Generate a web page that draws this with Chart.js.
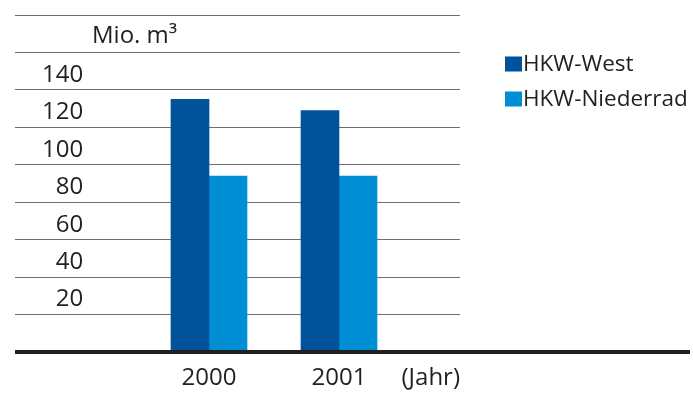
<!DOCTYPE html>
<html>
<head>
<meta charset="utf-8">
<script src="https://cdn.jsdelivr.net/npm/chart.js@4"></script>
<style>
  html, body { margin: 0; padding: 0; background: #ffffff; }
  #wrap { width: 693px; height: 393px; position: relative; }
</style>
</head>
<body>
<div id="wrap"><canvas id="c"></canvas></div>
<script>
// ---- data ----
const years = [2000, 2001];
const hkwWest = [135, 129];
const hkwNiederrad = [94, 94];
const seriesNames = ['HKW-West', 'HKW-Niederrad'];
const seriesColors = ['#00529b', '#008fd5'];
const yTickValues = [20, 40, 60, 80, 100, 120, 140];
const unitLabel = 'Mio. m\u00b3';
const axisLabel = '(Jahr)';

const FONT = '"Open Sans", "Liberation Sans", Arial, sans-serif';
const TEXT = '#231f20';

const overlay = {
  id: 'overlay',
  afterDatasetsDraw(chart) {
    const { ctx, chartArea, scales: { x, y } } = chart;
    ctx.save();
    // thick base line
    const y0 = y.getPixelForValue(0);
    ctx.fillStyle = TEXT;
    ctx.fillRect(chartArea.left, y0 - 2, 690 - chartArea.left, 4);
    // unit label
    ctx.font = '24px ' + FONT;
    ctx.fillStyle = TEXT;
    ctx.textBaseline = 'middle';
    ctx.textAlign = 'left';
    ctx.fillText(unitLabel, 92, (y.getPixelForValue(160) + y.getPixelForValue(180)) / 2 + 2);
    // axis label
    ctx.textAlign = 'right';
    ctx.fillText(axisLabel, chartArea.right, 378);
    // legend
    ctx.font = '22.5px ' + FONT;
    ctx.textAlign = 'left';
    chart.data.datasets.forEach((ds, i) => {
      const cy = 64 + i * 35;
      ctx.fillStyle = ds.backgroundColor;
      ctx.fillRect(505, cy - 7.5, 17, 15);
      ctx.fillStyle = TEXT;
      ctx.fillText(ds.label, 523, cy + 1);
    });
    ctx.restore();
  }
};

new Chart(document.getElementById('c'), {
  type: 'bar',
  data: {
    labels: years,
    datasets: [
      { label: seriesNames[0], data: hkwWest, backgroundColor: seriesColors[0], barThickness: 38 },
      { label: seriesNames[1], data: hkwNiederrad, backgroundColor: seriesColors[1], barThickness: 38 }
    ]
  },
  options: {
    responsive: true,
    maintainAspectRatio: false,
    animation: false,
    layout: { padding: { left: 15, top: 15, right: 233, bottom: 0 } },
    plugins: { legend: { display: false }, tooltip: { enabled: false } },
    scales: {
      x: {
        type: 'linear',
        offset: false,
        bounds: 'data',
        min: 1998.5077,
        max: 2001.9308,
        grid: { display: false, drawTicks: false },
        border: { display: false },
        afterBuildTicks: (s) => { s.ticks = years.map(v => ({ value: v })); },
        afterFit: (s) => { s.height = 41; s.paddingLeft = 0; s.paddingRight = 0; },
        ticks: {
          padding: 12,
          color: TEXT,
          font: { family: FONT, size: 24 },
          callback: (v) => String(v)
        }
      },
      y: {
        min: 0,
        max: 180,
        grid: { color: '#6d6e70', lineWidth: 1, drawTicks: false },
        border: { display: false },
        afterFit: (s) => { s.width = 0; s.paddingTop = 0; s.paddingBottom = 0; },
        ticks: {
          stepSize: 20,
          mirror: true,
          crossAlign: 'far',
          padding: 27,
          labelOffset: -15,
          color: TEXT,
          font: { family: FONT, size: 24 },
          callback: (v) => (yTickValues.includes(v) ? String(v) : '')
        }
      }
    }
  },
  plugins: [overlay]
});
</script>
</body>
</html>
